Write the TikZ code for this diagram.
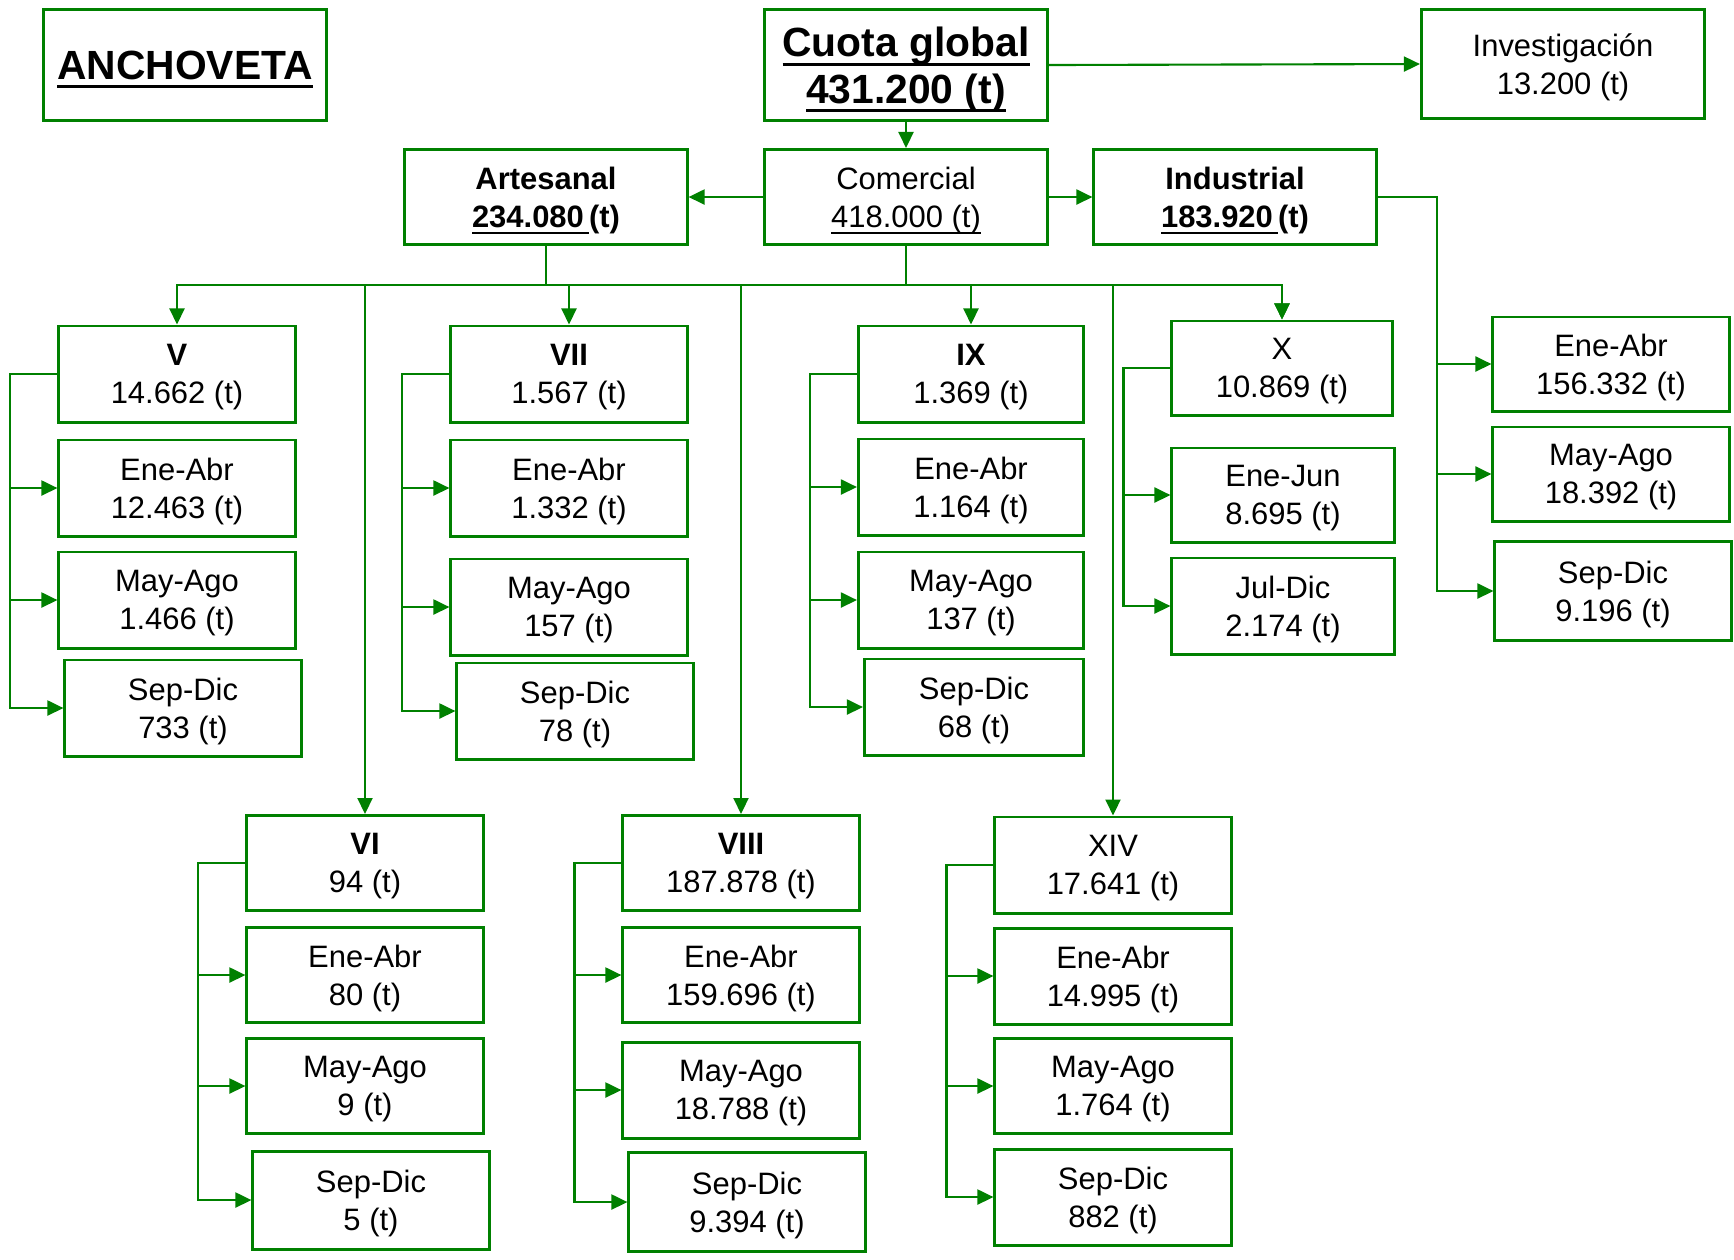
\documentclass[tikz,border=0pt]{standalone}
\usepackage{fontspec}
\setmainfont{Liberation Sans}
\usetikzlibrary{arrows.meta}
\definecolor{verde}{RGB}{0,128,0}
\newcommand{\subr}[1]{\leavevmode\setbox0\hbox{#1}\rlap{\rule[-0.22em]{\wd0}{0.075em}}\box0}
\tikzset{
	caja/.style={draw=verde, line width=0.85pt, inner sep=0pt, align=center,
		minimum width=2.36cm, minimum height=0.96cm, font=\fontsize{8.8}{10.8}\selectfont,
		text depth=-2.5pt},
	titulo/.style={caja, minimum width=2.82cm, minimum height=1.1cm,
		font=\fontsize{11.6}{13.2}\selectfont\bfseries, text depth=0pt},
	sector/.style={caja, minimum width=2.82cm, minimum height=0.95cm},
	flecha/.style={draw=verde, line width=0.6pt, -{Triangle[length=1.6mm,width=1.5mm]}},
}

\begin{document}
\begin{tikzpicture}[x=0.01cm,y=-0.01cm]
	\useasboundingbox (0,0) rectangle (1734,1259);
	% cabecera
	\node[titulo] (anch) at (185,65) {\subr{ANCHOVETA}};
	\node[titulo] (cuota) at (906,65) {\subr{Cuota global}\\\subr{431.200 (t)}};
	\node[caja, minimum width=2.83cm, minimum height=1.09cm] (inv) at (1563,64) {Investigación\\13.200 (t)};
	\node[sector] (art) at (546,197) {\textbf{Artesanal}\\\textbf{\subr{234.080\,}(t)}};
	\node[sector] (com) at (906,197) {Comercial\\\subr{418.000 (t)}};
	\node[sector] (ind) at (1235,197) {\textbf{Industrial}\\\textbf{\subr{183.920\,}(t)}};
	% regiones
	\node[caja] (r5) at (177,374) {\textbf{V}\\14.662 (t)};
	\node[caja] (r5a) at (177,488) {Ene-Abr\\12.463 (t)};
	\node[caja] (r5b) at (177,600) {May-Ago\\1.466 (t)};
	\node[caja] (r5c) at (183,708) {Sep-Dic\\733 (t)};
	\node[caja] (r7) at (569,374) {\textbf{VII}\\1.567 (t)};
	\node[caja] (r7a) at (569,488) {Ene-Abr\\1.332 (t)};
	\node[caja] (r7b) at (569,607) {May-Ago\\157 (t)};
	\node[caja] (r7c) at (575,711) {Sep-Dic\\78 (t)};
	\node[caja, minimum width=2.25cm] (r9) at (971,374) {\textbf{IX}\\1.369 (t)};
	\node[caja, minimum width=2.25cm] (r9a) at (971,487) {Ene-Abr\\1.164 (t)};
	\node[caja, minimum width=2.25cm] (r9b) at (971,600) {May-Ago\\137 (t)};
	\node[caja, minimum width=2.19cm] (r9c) at (974,707) {Sep-Dic\\68 (t)};
	\node[caja, minimum width=2.2cm, minimum height=0.94cm] (r10) at (1282,368) {X\\10.869 (t)};
	\node[caja, minimum width=2.22cm, minimum height=0.94cm] (r10a) at (1283,495) {Ene-Jun\\8.695 (t)};
	\node[caja, minimum width=2.22cm] (r10b) at (1283,606) {Jul-Dic\\2.174 (t)};
	\node[caja, minimum height=0.95cm] (r6) at (365,863) {\textbf{VI}\\94 (t)};
	\node[caja, minimum height=0.95cm] (r6a) at (365,975) {Ene-Abr\\80 (t)};
	\node[caja, minimum height=0.95cm] (r6b) at (365,1086) {May-Ago\\9 (t)};
	\node[caja, minimum height=0.98cm] (r6c) at (371,1200) {Sep-Dic\\5 (t)};
	\node[caja, minimum height=0.95cm] (r8) at (741,863) {\textbf{VIII}\\187.878 (t)};
	\node[caja, minimum height=0.95cm] (r8a) at (741,975) {Ene-Abr\\159.696 (t)};
	\node[caja] (r8b) at (741,1090) {May-Ago\\18.788 (t)};
	\node[caja, minimum height=0.99cm] (r8c) at (747,1202) {Sep-Dic\\9.394 (t)};
	\node[caja] (r14) at (1113,865) {XIV\\17.641 (t)};
	\node[caja] (r14a) at (1113,976) {Ene-Abr\\14.995 (t)};
	\node[caja, minimum height=0.95cm] (r14b) at (1113,1086) {May-Ago\\1.764 (t)};
	\node[caja] (r14c) at (1113,1197) {Sep-Dic\\882 (t)};
	% industrial
	\node[caja, minimum height=0.94cm] (inda) at (1611,364) {Ene-Abr\\156.332 (t)};
	\node[caja, minimum height=0.94cm] (indb) at (1611,474) {May-Ago\\18.392 (t)};
	\node[caja, minimum height=0.99cm] (indc) at (1613,591) {Sep-Dic\\9.196 (t)};
	% conexiones
	\draw[flecha] (cuota.east) -- (inv.west);
	\draw[flecha] (cuota.south) -- (com.north);
	\draw[flecha] (com.west) -- (art.east);
	\draw[flecha] (com.east) -- (ind.west);
	\foreach \r in {r5,r6,r7,r8,r9,r10,r14} \draw[flecha] (art.south) -- ++(0,39) -| (\r.north);
	\draw[flecha] (com.south) -- ++(0,39) -| (r10.north);
	\foreach \r in {r5,r6,r7,r8,r9,r14}
		\foreach \k in {a,b,c} \draw[flecha] (\r.west) -- ++(-47,0) |- (\r\k.west);
	\foreach \k in {a,b} \draw[flecha] (r10.west) -- ++(-47,0) |- (r10\k.west);
	\foreach \k in {a,b,c} \draw[flecha] (ind.east) -- ++(59,0) |- (ind\k.west);
\end{tikzpicture}
\end{document}
